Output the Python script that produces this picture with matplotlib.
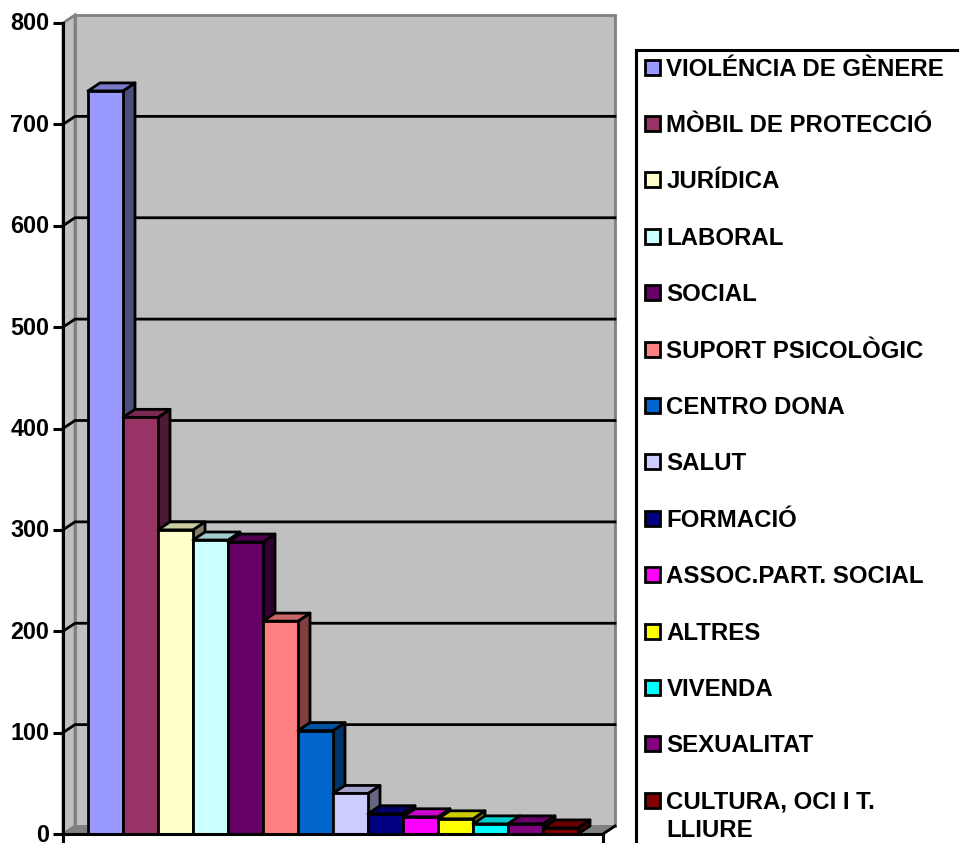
import matplotlib
matplotlib.use("Agg")
import matplotlib.pyplot as plt
from matplotlib.patches import Polygon, Rectangle
from matplotlib.colors import to_rgb
from matplotlib.transforms import ScaledTranslation

plt.rcParams['font.family'] = ['Liberation Sans', 'DejaVu Sans']

categories = ["VIOLÉNCIA DE GÈNERE", "MÒBIL DE PROTECCIÓ", "JURÍDICA", "LABORAL", "SOCIAL",
              "SUPORT PSICOLÒGIC", "CENTRO DONA", "SALUT", "FORMACIÓ", "ASSOC.PART. SOCIAL",
              "ALTRES", "VIVENDA", "SEXUALITAT", "CULTURA, OCI I T.\nLLIURE"]
values = [733, 411, 300, 290, 288, 210, 102, 40, 20, 17, 15, 10, 10, 6]
colors = ["#9999FF", "#993366", "#FFFFCC", "#CCFFFF", "#660066", "#FF8080", "#0066CC",
          "#CCCCFF", "#000080", "#FF00FF", "#FFFF00", "#00FFFF", "#800080", "#800000"]
yticks = [0, 100, 200, 300, 400, 500, 600, 700, 800]

W, H = 959, 843
LW = 2.0
fig = plt.figure(figsize=(W / 100, H / 100), dpi=100)
fig.patch.set_facecolor("white")

L, R, B, T = 63, 603, 834, 23
ax = fig.add_axes([L / W, 1 - B / H, (R - L) / W, (B - T) / H])
ax.patch.set_visible(False)
bar_px = 35.0
xmin = -(105.5 - L) / bar_px
xmax = (R - 105.5) / bar_px
ax.set_xlim(xmin, xmax)
ax.set_ylim(0, 800)
dx = 12 / bar_px
dy = 8 / ((B - T) / 800)

GREY = "#808080"
WALL = "#C0C0C0"
# walls and floor
ax.add_patch(Polygon([(xmin + dx, dy), (xmax + dx, dy), (xmax + dx, 800 + dy), (xmin + dx, 800 + dy)],
                     closed=True, fc=WALL, ec=GREY, lw=LW, clip_on=False, zorder=1))
ax.add_patch(Polygon([(xmin, 0), (xmin + dx, dy), (xmin + dx, 800 + dy), (xmin, 800)],
                     closed=True, fc=WALL, ec=GREY, lw=LW, clip_on=False, zorder=1))
ax.add_patch(Polygon([(xmin, 0), (xmax, 0), (xmax + dx, dy), (xmin + dx, dy)],
                     closed=True, fc=GREY, ec=GREY, lw=1, clip_on=False, zorder=1))
# gridlines
for v in yticks[1:-1]:
    ax.plot([xmin, xmin + dx, xmax + dx], [v, v + dy, v + dy], color="black", lw=LW,
            clip_on=False, zorder=2, solid_joinstyle="miter")
ax.plot([xmax, xmax + dx], [0, dy], color="black", lw=LW, clip_on=False, zorder=2)


def shade(c, k):
    return tuple(k * i for i in to_rgb(c))


# bars, left to right, each with its top and side faces
for i, (v, c) in enumerate(zip(values, colors)):
    z = 3 + i
    x0, x1 = i - 0.5, i + 0.5
    ax.add_patch(Polygon([(x1, 0), (x1 + dx, dy), (x1 + dx, v + dy), (x1, v)], closed=True,
                         fc=shade(c, 0.5), ec="black", lw=LW, clip_on=False, zorder=z,
                         joinstyle="round"))
    ax.add_patch(Polygon([(x0, v), (x1, v), (x1 + dx, v + dy), (x0 + dx, v + dy)], closed=True,
                         fc=shade(c, 0.8), ec="black", lw=LW, clip_on=False, zorder=z,
                         joinstyle="round"))
    ax.bar(i, v, width=1.0, color=c, edgecolor="black", linewidth=LW, zorder=z + 0.5, clip_on=False)

for s in ("top", "right"):
    ax.spines[s].set_visible(False)
for s in ("left", "bottom"):
    ax.spines[s].set_linewidth(2.2)
    ax.spines[s].set_zorder(30)
ax.set_yticks(yticks)
ax.set_xticks([xmin, xmax])
ax.set_xticklabels(["", ""])
ax.tick_params(axis="y", length=7.2, width=2.2, pad=2.6, labelsize=16.8)
ax.tick_params(axis="x", length=7.2, width=2.2)
lift = ScaledTranslation(0, 1.5 / 100, fig.dpi_scale_trans)
for t in ax.get_yticklabels():
    t.set_fontweight("bold")
    t.set_verticalalignment("center_baseline")
    t.set_transform(t.get_transform() + lift)

# legend, cut by the figure edge as in the source
lg = fig.add_axes([0, 0, 1, 1])
lg.set_xlim(0, W)
lg.set_ylim(H, 0)
lg.axis("off")
lg.patch.set_visible(False)
lg.plot([636, 636, W + 5], [H + 5, 50, 50], color="black", lw=2.2, clip_on=True,
        solid_joinstyle="miter")
row0, step = 67.0, 56.4
for i, (name, c) in enumerate(zip(categories, colors)):
    y = row0 + i * step
    lg.add_patch(Rectangle((645, y - 7.5), 15, 15, fc=c, ec="black", lw=2.0))
    for j, line in enumerate(name.split("\n")):
        lg.text(666.5, y + 8.5 + j * 28, line, fontsize=17.3, fontweight="bold",
                va="baseline", ha="left", color="black")

fig.savefig("out.png", dpi=100, facecolor="white")
